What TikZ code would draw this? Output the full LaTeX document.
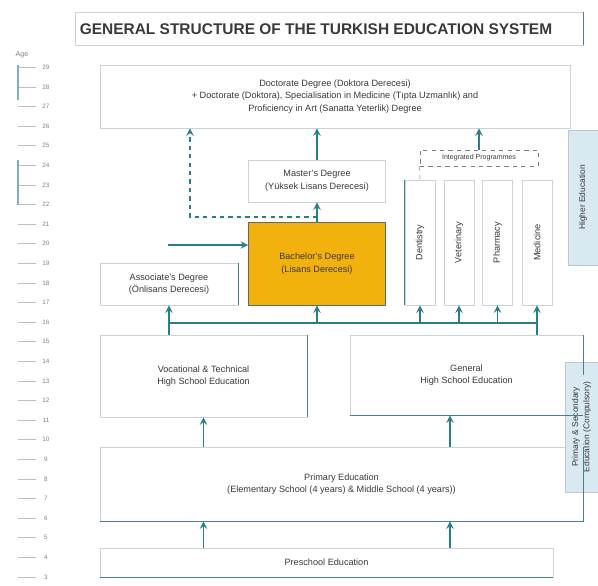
\documentclass[tikz,border=0pt]{standalone}
\usepackage{fontspec}
\setmainfont{Liberation Sans}
\usepackage{tikz}
\usetikzlibrary{positioning}

\definecolor{arrowteal}{HTML}{2C7D8C}
\definecolor{edgeteal}{HTML}{4A7F8A}
\definecolor{boxgray}{HTML}{C9D3D8}
\definecolor{textgray}{HTML}{3A3A3A}
\definecolor{bachelorgold}{HTML}{F2B10C}
\definecolor{sideblue}{HTML}{D8E9F1}

\begin{document}
\begin{tikzpicture}[>=stealth, x=0.025cm, y=-0.025cm,
    box/.style={draw=boxgray, line width=0.6pt, fill=white, text=textgray,
      align=center, inner sep=1pt, font=\fontsize{6.5}{9}\selectfont},
    column/.style={box, rotate=90, minimum width=3.125cm, minimum height=0.75cm},
    side/.style={fill=sideblue, draw=sideblue!70!gray, text=textgray, align=center,
      rotate=90, inner sep=1pt, font=\fontsize{6}{8}\selectfont},
    arr/.style={->, line width=1.3pt, draw=arrowteal},
    dasharr/.style={arr, dashed},
    bar/.style={line width=1.3pt, draw=arrowteal},
    edge/.style={line width=1pt, draw=edgeteal},
    tick/.style={line width=0.5pt, draw=gray!50},
    agelabel/.style={text=gray, font=\fontsize{4.5}{5}\selectfont}]

      \useasboundingbox (0,0) rectangle (598,585);

      % Define the coordinates
      \coordinate (fork) at (317,217);
      \coordinate (bend) at (190,217);
      \coordinate (entry) at (168,245);
      \coordinate (bus) at (0,323);
      \coordinate (gx) at (450,0);

      % Draw the title
      \node[draw=boxgray, minimum width=12.7cm, minimum height=0.825cm] (title) at (329,28.5) {};
      \node[font=\bfseries\fontsize{11}{13}\selectfont, text=textgray] (titletext) at (316,29)
        {GENERAL STRUCTURE OF THE TURKISH EDUCATION SYSTEM};
      \draw[edge] (title.north east) -- (title.south east);

      % Draw the age scale
      \node[text=gray, font=\fontsize{5}{6}\selectfont] (age) at (22,55) {Age};
      \foreach \a in {3,...,29} {
        \draw[tick] (18,{577-(\a-3)*19.6}) -- (36,{577-(\a-3)*19.6});
        \node[agelabel] (age\a) at (46,{577-(\a-3)*19.6}) {\a};
      }
      \draw[edge, draw=arrowteal!60] (18,65) -- (18,100);
      \draw[edge, draw=arrowteal!60] (18,160) -- (18,205);

      % Draw the higher education boxes
      \node[box, minimum width=11.75cm, minimum height=1.575cm] (doctorate) at (335,96.5)
        {Doctorate Degree (Doktora Derecesi)\\
         + Doctorate (Doktora), Specialisation in Medicine (Tıpta Uzmanlık) and\\
         Proficiency in Art (Sanatta Yeterlik) Degree};
      \node[box, minimum width=3.425cm, minimum height=1.05cm] (masters) at (317,181)
        {Master's Degree\\(Yüksek Lisans Derecesi)};
      \node[box, fill=bachelorgold, draw=black!60, minimum width=3.425cm,
        minimum height=2.075cm] (bachelors) at (317,263.5)
        {Bachelor's Degree\\(Lisans Derecesi)};
      \node[box, minimum width=3.45cm, minimum height=1.05cm] (associate) at (169,284)
        {Associate's Degree\\(Önlisans Derecesi)};
      \node[box, dashed, draw=gray, minimum width=2.95cm, minimum height=0.4cm,
        font=\fontsize{5}{6}\selectfont] (integrated) at (479,158)
        {Integrated Programmes};
      \node[column] (dentistry) at (420,242.5) {Dentistry};
      \node[column] (veterinary) at (459,242.5) {Veterinary};
      \node[column] (pharmacy) at (497.5,242.5) {Pharmacy};
      \node[column] (medicine) at (537,242.5) {Medicine};
      \node[side, minimum width=3.375cm, minimum height=0.75cm] (higher) at (583,197.5)
        {Higher Education};

      % Draw the school boxes
      \node[box, minimum width=5.175cm, minimum height=2.05cm] (vocational) at (203.5,376)
        {Vocational \& Technical\\High School Education};
      \node[box, minimum width=5.825cm, minimum height=2.0cm] (general) at (466.5,375)
        {General\\High School Education};
      \node[box, minimum width=12.075cm, minimum height=1.85cm] (primary) at (341.5,484)
        {Primary Education\\(Elementary School (4 years) \& Middle School (4 years))};
      \node[side, minimum width=3.25cm, minimum height=0.825cm] (compulsory) at (581.5,427)
        {Primary \& Secondary\\Education (Compulsory)};
      \node[box, minimum width=11.325cm, minimum height=0.725cm] (preschool) at (326.5,562.5)
        {Preschool Education};

      % Draw the darker box edges
      \draw[edge] (associate.north east) -- (associate.south east);
      \draw[edge] (dentistry.north west) -- (dentistry.north east);
      \draw[edge] (vocational.north east) -- (vocational.south east);
      \draw[edge] (general.south west) -- (general.south east);
      \draw[edge] (general.north east) -- (general.east);
      \draw[edge] (primary.south west) -- (primary.south east) -- (primary.north east);
      \draw[edge] (preschool.south west) -- (preschool.south east);

      % Draw the links into the doctorate
      \draw[arr] (masters.north) -- (masters.north |- doctorate.south);
      \draw[arr] (integrated.north) -- (integrated.north |- doctorate.south);
      \draw[dasharr] (fork) -- (bend) -- (doctorate.south -| bend);
      \draw[dashed, draw=gray] (integrated.south west) -- (dentistry.east);

      % Draw the links into the degrees
      \draw[arr] (bachelors.north) -- (masters.south);
      \draw[arr] (entry) -- (entry -| bachelors.west);
      \draw[bar] (bus -| associate.south) -- (bus -| medicine.west);
      \draw[arr] (vocational.north -| associate.south) -- (associate.south);
      \draw[arr] (general.north -| medicine.west) -- (medicine.west);
      \draw[arr] (bus -| bachelors.south) -- (bachelors.south);
      \draw[arr] (bus -| dentistry.west) -- (dentistry.west);
      \draw[arr] (bus -| veterinary.west) -- (veterinary.west);
      \draw[arr] (bus -| pharmacy.west) -- (pharmacy.west);

      % Draw the links between the schools
      \draw[arr] (primary.north -| vocational.south) -- (vocational.south);
      \draw[arr] (primary.north -| gx) -- (general.south -| gx);
      \draw[arr] (preschool.north -| vocational.south) -- (primary.south -| vocational.south);
      \draw[arr] (preschool.north -| gx) -- (primary.south -| gx);
    \end{tikzpicture}
\end{document}
